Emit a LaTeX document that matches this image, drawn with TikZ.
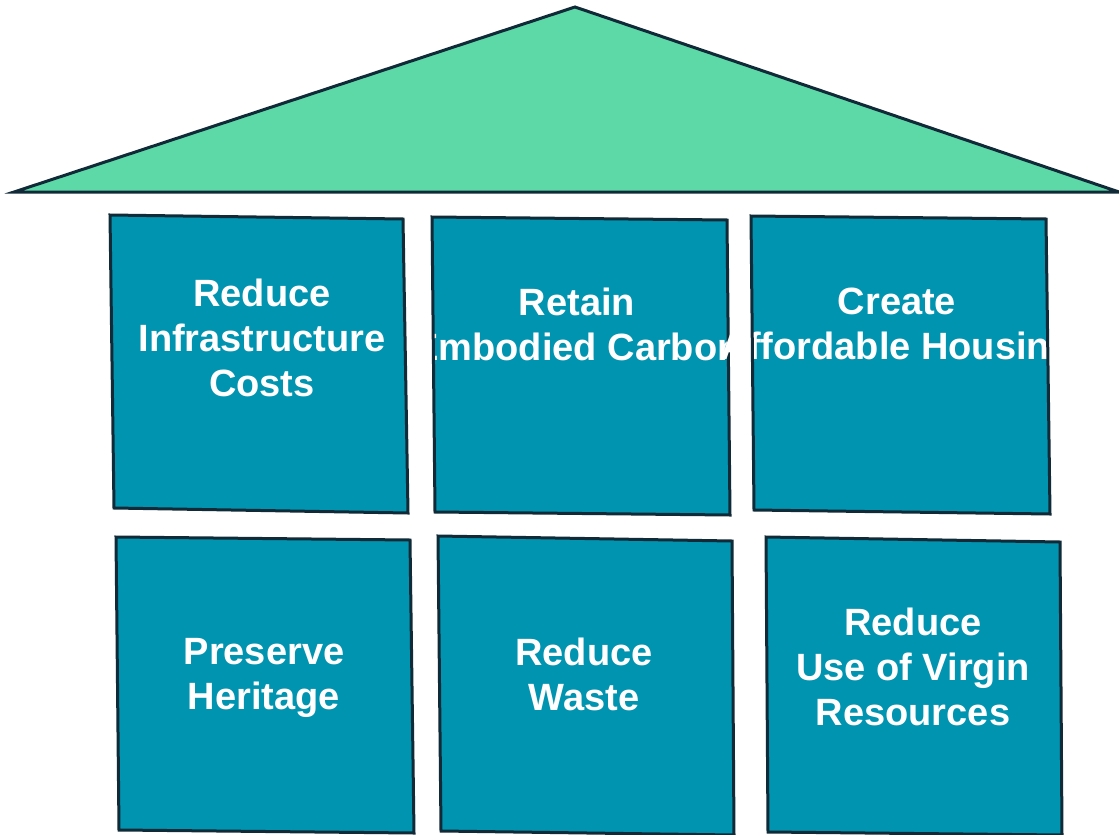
\documentclass[tikz,border=0pt]{standalone}
\usepackage{fontspec}
\setmainfont{Liberation Sans}
\usetikzlibrary{calc}
\definecolor{RoofGreen}{RGB}{93,217,168}
\definecolor{PanelTeal}{RGB}{0,148,176}
\definecolor{EdgeNavy}{RGB}{16,42,56}
% id / four corners (tl, tr, br, bl) / text centre / label
\def\Panels{1/110/215/403/219/408/513/114/508/262/338/{Reduce\\Infrastructure\\Costs},
	2/432/217/727/220/730/515/435/512/577/324/{Retain\\Embodied Carbon},
	3/751/216/1046/219/1050/514/754/510/897/328/{Create\\Affordable Housing},
	4/116/537/410/540/414/833/119/830/264/678/{Preserve\\Heritage},
	5/438/536/732/541/734/835/441/831/584/674/{Reduce\\Waste},
	6/766/537/1060/542/1062/835/768/832/913/667/{Reduce\\Use of Virgin\\Resources}}
\tikzset{Roof/.style={
		fill=RoofGreen,
		draw=EdgeNavy,
		line width=3pt,
	},
	Panel/.style={
		fill=PanelTeal,
	},
	PanelEdge/.style={
		draw=EdgeNavy,
		line width=3pt,
	},
	PanelText/.style={
		text=white,
		font=\bfseries\fontsize{38}{45}\selectfont,
		align=center,
		inner sep=0pt,
	}
}
\begin{document}
\begin{tikzpicture}[x=1pt, y=-1pt]
	\useasboundingbox (0,0) rectangle (1119,835);
	% roof
	\draw [Roof] (14,192) -- (575,7) -- (1119,192) -- cycle;
	% panels: fill, text, then edge on top
	\foreach \id/\ax/\ay/\bx/\by/\cx/\cy/\dx/\dy/\tx/\ty/\Label in \Panels {%
		\fill [Panel] (\ax,\ay) -- (\bx,\by) -- (\cx,\cy) -- (\dx,\dy) -- cycle;
		\node [PanelText] (panel-\id) at (\tx,\ty) {\Label};
		\draw [PanelEdge] (\ax,\ay) -- (\bx,\by) -- (\cx,\cy) -- (\dx,\dy) -- cycle;
	}
\end{tikzpicture}
\end{document}
